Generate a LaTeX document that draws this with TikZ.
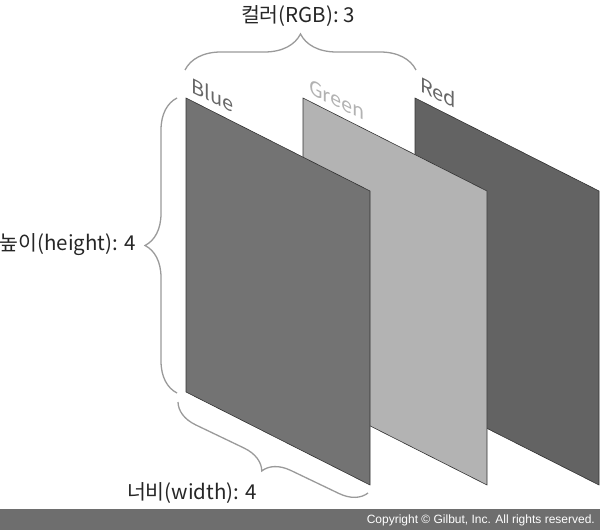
\documentclass[tikz,border=0pt]{standalone}
\usepackage{fontspec}
\setmainfont{Noto Sans CJK KR}
\newfontfamily\copyfont{Liberation Sans}
\usetikzlibrary{decorations.pathreplacing,positioning}

\definecolor{bluepanel}{HTML}{737373}
\definecolor{greenpanel}{HTML}{B3B3B3}
\definecolor{redpanel}{HTML}{636363}
\definecolor{bracegray}{HTML}{9A9A9A}
\definecolor{bargray}{HTML}{6E6E6E}

\begin{document}
\begin{tikzpicture}[x=1pt,y=1pt]
	\tikzstyle{every node}=[inner sep=0pt]
	\tikzstyle{panel}=[draw=black!80, line width=0.6pt]
	\tikzstyle{tag}=[font=\fontsize{20}{20}\selectfont, yslant=-0.5, anchor=north west]
	\tikzstyle{dim}=[font=\fontsize{20.5}{20.5}\selectfont, text=black!85]
	\tikzstyle{curly}=[draw=bracegray, line width=1.3pt, decorate]

	\useasboundingbox (0,0) rectangle (600,530);

	% channels, back to front
	\foreach \x/\c in {415/redpanel, 303/greenpanel, 186/bluepanel}
		\filldraw[panel, fill=\c] (\x,432) -- (\x,138) -- (\x+184,45) -- (\x+184,339) -- cycle;

	\node[tag, text=black!60] (blue) at (191,454) {Blue};
	\node[tag, text=black!30] (green) at (309,452) {Green};
	\node[tag, text=black!60] (red) at (420,455) {Red};

	% braces
	\coordinate (cl) at (185,460);
	\coordinate (cr) at (416,460);
	\coordinate (hb) at (177,137);
	\coordinate (ht) at (177,432);
	\coordinate (wr) at (368,37);
	\coordinate (wl) at (178,128);

	\draw[curly, decoration={brace, amplitude=36pt}] (cl) -- (cr);
	\draw[curly, decoration={brace, amplitude=32pt}] (hb) -- (ht);
	\draw[curly, decoration={brace, amplitude=26pt}] (wr) -- (wl);

	\node[dim] (rgb) at (298,514) {컬러(RGB): 3};
	\node[dim, anchor=east] (height) at (136,285) {높이(height): 4};
	\node[dim] (width) at (192,37) {너비(width): 4};

	% footer
	\fill[bargray] (0,0) rectangle (600,21);
	\node[font=\copyfont\fontsize{12}{12}\selectfont, text=white, anchor=east] (copy) at (595,10) {Copyright © Gilbut, Inc. All rights reserved.};
\end{tikzpicture}
\end{document}
